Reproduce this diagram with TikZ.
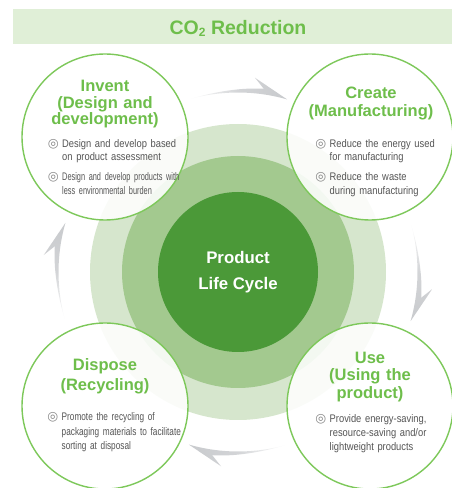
\documentclass[tikz,border=0pt]{standalone}
\usepackage{fontspec}
\setmainfont{Liberation Sans}
\newfontfamily\bodyfont[FakeStretch=0.85]{Liberation Sans}
\newfontfamily\bodyfontn[FakeStretch=0.75]{Liberation Sans}
\newfontfamily\bodyfontnn[FakeStretch=0.67]{Liberation Sans}
\newfontfamily\symfont{DejaVu Sans}
\usepackage{tikz}
\usetikzlibrary{positioning,calc}

\definecolor{bandgreen}{RGB}{224,239,215}
\definecolor{titlegreen}{RGB}{110,190,75}
\definecolor{linegreen}{RGB}{125,200,90}
\definecolor{ringlight}{RGB}{214,230,205}
\definecolor{ringmid}{RGB}{163,201,143}
\definecolor{coregreen}{RGB}{75,153,56}
\definecolor{bodygray}{RGB}{85,85,85}
\definecolor{bulletgray}{RGB}{135,135,135}
\definecolor{arrowgray}{RGB}{200,202,205}

\newcommand{\lcbul}{\makebox[13.5pt][l]{\hspace*{-0.8pt}\symfont\fontsize{12.5}{12.5}\selectfont\color{bulletgray}◎}}
\newcommand{\contline}{\hspace*{13.5pt}}
\newcommand{\cyclearrow}[2]{%
  \shade[#2] ($(hub)+(#1+16:179.5)$) arc[start angle=#1+16, end angle=#1-16, radius=179]
    -- ($(hub)+(#1-5:195)$) -- ($(hub)+(#1-8:185)$)
    .. controls ($(hub)+(#1:185)$) and ($(hub)+(#1+10:181)$) .. ($(hub)+(#1+16:179.5)$) -- cycle;}

\tikzset{
  band/.style={fill=bandgreen, minimum width=439pt, minimum height=35pt, inner sep=0pt},
  bandtext/.style={text=titlegreen, font=\bfseries\fontsize{19.5}{19.5}\selectfont, inner sep=0pt},
  ring/.style={circle, inner sep=0pt},
  stage/.style={circle, draw=linegreen, line width=1.4pt, fill=white, fill opacity=0.88,
    text opacity=1, minimum size=166pt, inner sep=0pt},
  stagetitle/.style={text=titlegreen, align=center, text width=160pt, inner sep=0pt,
    font=\bfseries\fontsize{16.5}{#1}\selectfont},
  stagetitle/.default=17,
  stagetext/.style={text=bodygray, align=left, text width=150pt, inner sep=0pt,
    font=\bodyfont\fontsize{11}{#1}\selectfont},
  stagetext/.default=13.7
}

\begin{document}
\begin{tikzpicture}[x=1pt, y=1pt]
  \useasboundingbox (0,0) rectangle (452,488);

  % Title band
  \node[band] (band) at (232.5,461.5) {};
  \node[bandtext, anchor=base] (bandtext) at (238,453)
    {CO\raisebox{-1.5pt}{\fontsize{12}{12}\selectfont 2} Reduction};

  % Rings
  \coordinate (hub) at (238,216);
  \node[ring, fill=ringlight, minimum size=296pt] (outer) at (hub) {};
  \node[ring, fill=ringmid, minimum size=232pt] (middle) at (hub) {};
  \node[ring, fill=coregreen, minimum size=160pt, text=white, align=center,
    font=\bfseries\fontsize{16.8}{26}\selectfont] (core) at (hub) {Product\\Life Cycle};

  % Cycle arrows
  \cyclearrow{90}{left color=white, right color=arrowgray, middle color=arrowgray!80}
  \cyclearrow{0}{top color=white, bottom color=arrowgray, middle color=arrowgray!80}
  \cyclearrow{-90}{right color=white, left color=arrowgray, middle color=arrowgray!80}
  \cyclearrow{180}{bottom color=white, top color=arrowgray, middle color=arrowgray!80}

  % Stages
  \node[stage] (invent) at (105,351) {};
  \node[stage] (create) at (370,351) {};
  \node[stage] (dispose) at (105,82) {};
  \node[stage] (use) at (370,82) {};

  % Stage titles
  \node[stagetitle=16.5, anchor=base] (inventtitle) at (105,396) {Invent\\(Design and\\development)};
  \node[stagetitle=17.5, anchor=base] (createtitle) at (371,389) {Create\\(Manufacturing)};
  \node[stagetitle=20, anchor=base] (disposetitle) at (105,117.3) {Dispose\\(Recycling)};
  \node[stagetitle=17.5, anchor=base] (usetitle) at (370,124.7) {Use\\(Using the\\product)};

  % Stage texts
  \node[stagetext, anchor=base west] (inventtext) at (48.5,340.7)
    {\lcbul Design and develop based\\\contline on product assessment\\[6pt]
     {\bodyfontnn\lcbul Design and develop products with}\\\contline{\bodyfontnn less environmental burden}};
  \node[stagetext, anchor=base west] (createtext) at (316,340.7)
    {\lcbul Reduce the energy used\\\contline for manufacturing\\[6pt]
     \lcbul Reduce the waste\\\contline during manufacturing};
  \node[stagetext=14.5, anchor=base west] (disposetext) at (48,67.3)
    {{\bodyfontn\lcbul Promote the recycling of}\\\contline{\bodyfontn packaging materials to facilitate}\\\contline{\bodyfontn sorting at disposal}};
  \node[stagetext=14, anchor=base west] (usetext) at (316,65.3)
    {\lcbul Provide energy-saving,\\\contline resource-saving and/or\\\contline lightweight products};
\end{tikzpicture}
\end{document}
